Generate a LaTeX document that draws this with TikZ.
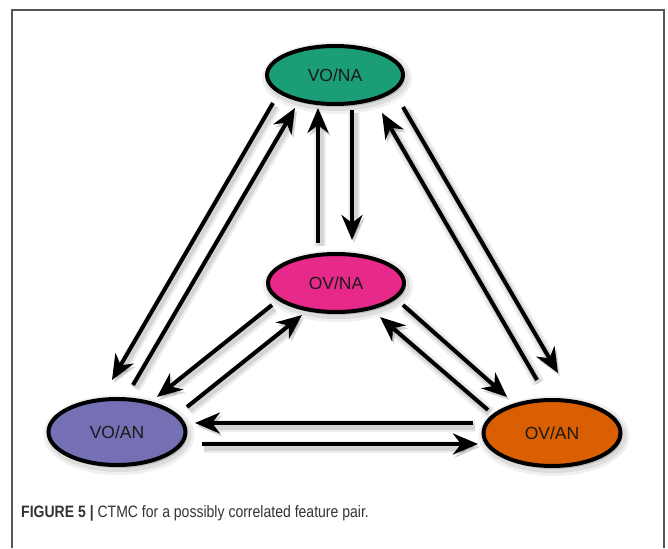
\documentclass[tikz,border=0pt]{standalone}
\usepackage{fontspec}
\setmainfont{Liberation Sans}
\usetikzlibrary{arrows.meta,shapes.geometric}
\definecolor{cgreen}{HTML}{1B9E77}
\definecolor{cpink}{HTML}{E7298A}
\definecolor{cpurple}{HTML}{7570B3}
\definecolor{corange}{HTML}{D95F02}
\definecolor{frame}{HTML}{555555}
\definecolor{captxt}{HTML}{333333}
\begin{document}
\begin{tikzpicture}[x=1pt,y=-1pt,
  state/.style={ellipse, draw=black, line width=4pt, inner sep=0pt,
    minimum width=136pt, minimum height=58pt,
    font=\fontsize{17.5}{20}\selectfont, text=black!90,
    preaction={fill=black, draw=black, opacity=0.06, line width=14pt,
      transform canvas={shift={(2,3)}}},
    preaction={fill=black, draw=black, opacity=0.08, line width=8pt,
      transform canvas={shift={(2,3)}}}},
  tall/.style={minimum width=137pt, minimum height=66pt},
  arr/.style={line width=4pt, black,
    -{Stealth[length=25pt,width=21pt,inset=8pt]},
    preaction={draw=black, opacity=0.07, line width=12pt,
      transform canvas={shift={(2,3)}}},
    preaction={draw=black, opacity=0.10, line width=7pt,
      transform canvas={shift={(2,3)}}}}]
\useasboundingbox[fill=white] (0,0) rectangle (668,548);
\draw[frame, line width=1.5pt] (12,548) -- (12,10) -- (664,10) -- (664,548);

\node[state, fill=cgreen] (vona) at (335,75) {VO/NA};
\node[state, fill=cpink] (ovna) at (336,283) {OV/NA};
\node[state, tall, fill=cpurple] (voan) at (117,432) {VO/AN};
\node[state, tall, fill=corange] (ovan) at (552,433) {OV/AN};

% VO/NA <-> VO/AN
\draw[arr] ([shift={(-62,28)}]vona.center) -- ([shift={(-5,-52)}]voan.center);
\draw[arr] ([shift={(16,-47)}]voan.center) -- ([shift={(-40,33)}]vona.center);
% VO/NA <-> OV/NA
\draw[arr] ([shift={(-18,-40)}]ovna.center) -- ([shift={(-17,33)}]vona.center);
\draw[arr] ([shift={(17,35)}]vona.center) -- ([shift={(16,-43)}]ovna.center);
% VO/NA <-> OV/AN
\draw[arr] ([shift={(-15,-53)}]ovan.center) -- ([shift={(47,38)}]vona.center);
\draw[arr] ([shift={(68,32)}]vona.center) -- ([shift={(6,-60)}]ovan.center);
% OV/NA <-> VO/AN
\draw[arr] ([shift={(-64,22)}]ovna.center) -- ([shift={(40,-35)}]voan.center);
\draw[arr] ([shift={(70,-25)}]voan.center) -- ([shift={(-34,32)}]ovna.center);
% OV/NA <-> OV/AN
\draw[arr] ([shift={(67,22)}]ovna.center) -- ([shift={(-45,-36)}]ovan.center);
\draw[arr] ([shift={(-64,-23)}]ovan.center) -- ([shift={(44,34)}]ovna.center);
% VO/AN <-> OV/AN
\draw[arr] ([shift={(-79,-10)}]ovan.center) -- ([shift={(78,-9)}]voan.center);
\draw[arr] ([shift={(85,12)}]voan.center) -- ([shift={(-74,11)}]ovan.center);

\node[anchor=base west, inner sep=0pt, text=captxt,
  font=\fontsize{16.5}{20}\selectfont] (cap) at (21,517)
  {\scalebox{0.85}[1]{\textbf{FIGURE 5 |} CTMC for a possibly correlated feature pair.}};
\end{tikzpicture}
\end{document}
